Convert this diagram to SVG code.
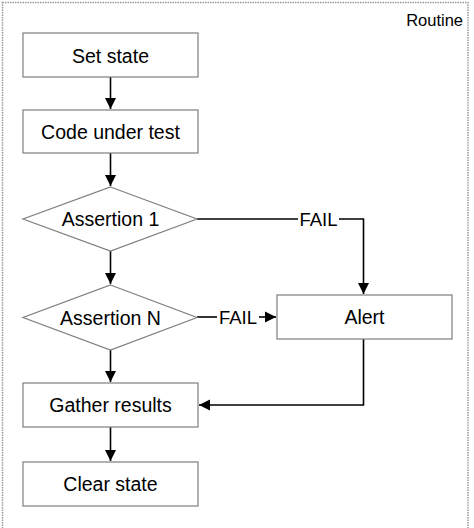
<svg xmlns="http://www.w3.org/2000/svg" width="474" height="528" viewBox="0 0 474 528">
<defs>
<style>
.box{fill:#fff;stroke:#7f7f7f;stroke-width:1.2}
.t{font-family:"Liberation Sans",Arial,sans-serif;font-size:19.5px;fill:#000;text-anchor:middle}
.c{fill:none;stroke:#000;stroke-width:1.6}
.lbl{font-family:"Liberation Sans",Arial,sans-serif;font-size:18.5px;fill:#000;text-anchor:middle}
</style>
<marker id="ah" viewBox="0 0 10 10" refX="10" refY="5" markerWidth="7" markerHeight="7" markerUnits="strokeWidth" orient="auto">
<path d="M0,0 L10,5 L0,10 z" fill="#000"/>
</marker>
</defs>
<rect width="474" height="528" fill="#fff"/>
<g id="routine">
<rect x="2.5" y="2.5" width="465.5" height="530" fill="none" stroke="#9a9a9a" stroke-width="1.5" stroke-dasharray="1.5 1"/>
<text x="463" y="26" font-family="Liberation Sans,Arial,sans-serif" font-size="16.5" text-anchor="end">Routine</text>
</g>
<g id="connectors">
<line class="c" x1="110.5" y1="77" x2="110.5" y2="109" marker-end="url(#ah)"/>
<line class="c" x1="110.5" y1="153" x2="110.5" y2="186" marker-end="url(#ah)"/>
<line class="c" x1="110.5" y1="251" x2="110.5" y2="284" marker-end="url(#ah)"/>
<line class="c" x1="110.5" y1="350" x2="110.5" y2="382" marker-end="url(#ah)"/>
<line class="c" x1="110.5" y1="427" x2="110.5" y2="461" marker-end="url(#ah)"/>
<path class="c" d="M197,219 H298"/>
<path class="c" d="M339,219 H363.5 V294" marker-end="url(#ah)"/>
<text class="lbl" x="318.5" y="226">FAIL</text>
<path class="c" d="M197,317 H217"/>
<path class="c" d="M259,317 H276" marker-end="url(#ah)"/>
<text class="lbl" x="238" y="324">FAIL</text>
<path class="c" d="M363.5,339 V405 H199" marker-end="url(#ah)"/>
</g>
<g id="set-state">
<rect class="box" x="23" y="33" width="175" height="44"/>
<text class="t" x="110.5" y="62.5">Set state</text>
</g>
<g id="code-under-test">
<rect class="box" x="23" y="110" width="175" height="43"/>
<text class="t" x="110.5" y="138.5">Code under test</text>
</g>
<g id="assertion-1">
<polygon class="box" points="110.5,187 197,219 110.5,251 23,219"/>
<text class="t" x="110.5" y="226">Assertion 1</text>
</g>
<g id="assertion-n">
<polygon class="box" points="110.5,285 197,317.5 110.5,350 23,317.5"/>
<text class="t" x="110.5" y="324.5">Assertion N</text>
</g>
<g id="alert">
<rect class="box" x="277" y="295" width="175" height="44"/>
<text class="t" x="364.5" y="324">Alert</text>
</g>
<g id="gather-results">
<rect class="box" x="23" y="383" width="175" height="44"/>
<text class="t" x="110.5" y="412">Gather results</text>
</g>
<g id="clear-state">
<rect class="box" x="23" y="462" width="175" height="44"/>
<text class="t" x="110.5" y="491">Clear state</text>
</g>
</svg>
